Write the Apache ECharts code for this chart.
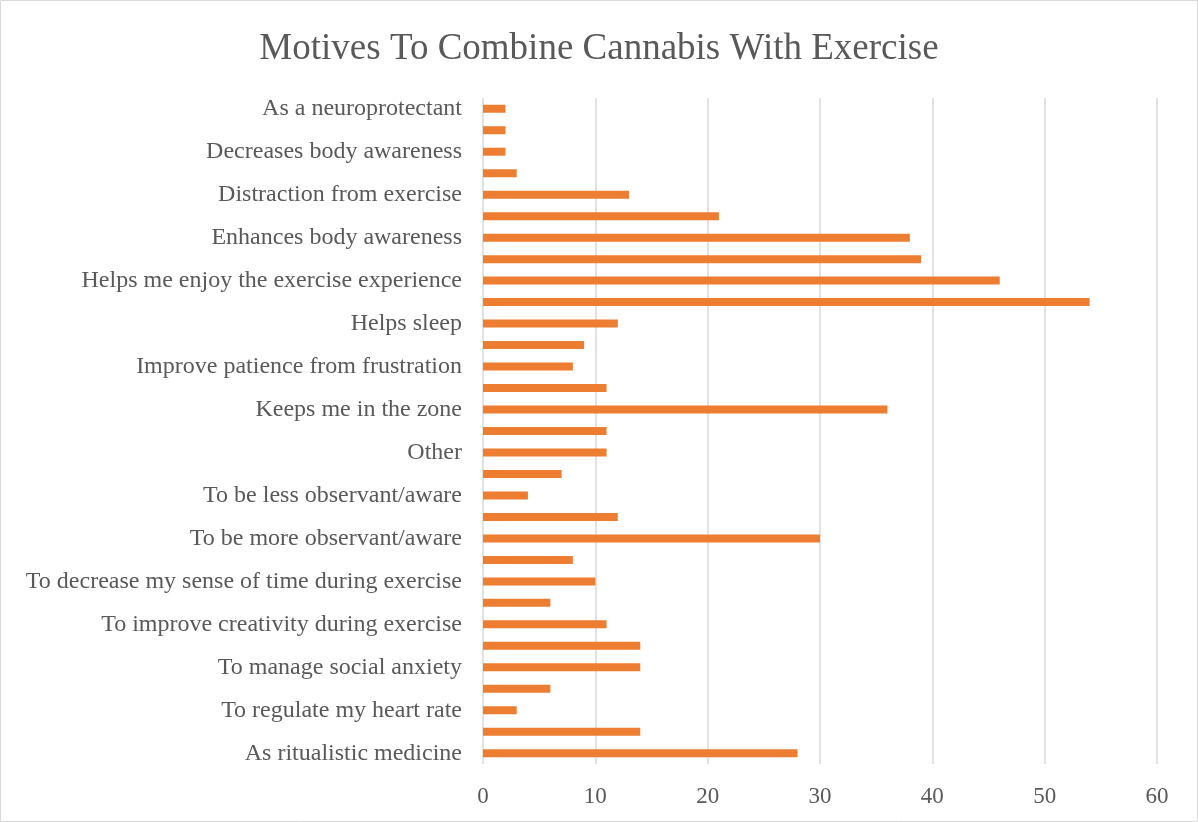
<!DOCTYPE html>
<html>
<head>
<meta charset="utf-8">
<title>Motives To Combine Cannabis With Exercise</title>
<script src="https://cdn.jsdelivr.net/npm/echarts@6/dist/echarts.min.js"></script>
<style>
  html, body { margin: 0; padding: 0; background: #fff; }
  #chart { width: 1198px; height: 822px; }
</style>
</head>
<body>
<div id="chart"></div>
<script>
// categories top to bottom; every second label is not drawn in the original
const motives = [
  'As a neuroprotectant', 'Category 2', 'Decreases body awareness', 'Category 4',
  'Distraction from exercise', 'Category 6', 'Enhances body awareness', 'Category 8',
  'Helps me enjoy the exercise experience', 'Category 10', 'Helps sleep', 'Category 12',
  'Improve patience from frustration', 'Category 14', 'Keeps me in the zone', 'Category 16',
  'Other', 'Category 18', 'To be less observant/aware', 'Category 20',
  'To be more observant/aware', 'Category 22', 'To decrease my sense of time during exercise', 'Category 24',
  'To improve creativity during exercise', 'Category 26', 'To manage social anxiety', 'Category 28',
  'To regulate my heart rate', 'Category 30', 'As ritualistic medicine'
]
const counts = [
  2, 2, 2, 3, 13, 21, 38, 39, 46, 54, 12, 9, 8, 11, 36, 11,
  11, 7, 4, 12, 30, 8, 10, 6, 11, 14, 14, 6, 3, 14, 28
]
const xTicks = [0, 10, 20, 30, 40, 50, 60]

const chart = echarts.init(document.getElementById('chart'))
const serif = '"Liberation Serif", "Times New Roman", serif'

chart.setOption({
  animation: false,
  backgroundColor: '#fff',
  graphic: [{
    type: 'rect',
    shape: { x: 0.5, y: 0.5, width: 1197, height: 821 },
    style: { fill: 'none', stroke: '#d9d9d9', lineWidth: 1 },
    silent: true
  }],
  title: {
    text: 'Motives To Combine Cannabis With Exercise',
    left: 'center',
    top: 26,
    textStyle: { fontFamily: serif, fontSize: 37, fontWeight: 'normal', color: '#595959' }
  },
  grid: { left: 483, right: 41, top: 98, bottom: 58 },
  xAxis: {
    type: 'value',
    min: xTicks[0],
    max: xTicks[xTicks.length - 1],
    interval: 10,
    axisLine: { show: false },
    axisTick: { show: false },
    axisLabel: { fontFamily: serif, fontSize: 23, color: '#595959', margin: 21 },
    splitLine: { lineStyle: { color: '#d9d9d9', width: 1.5 } }
  },
  yAxis: {
    type: 'category',
    data: motives,
    inverse: true,
    axisLine: { show: false },
    axisTick: { show: false },
    axisLabel: {
      interval: 1, fontFamily: serif, fontSize: 24, color: '#595959', margin: 21,
      padding: [10, 0, 0, 0]
    }
  },
  series: [{
    type: 'bar',
    data: counts,
    barWidth: 8,
    itemStyle: { color: '#ed7d31' }
  }]
})
</script>
</body>
</html>
